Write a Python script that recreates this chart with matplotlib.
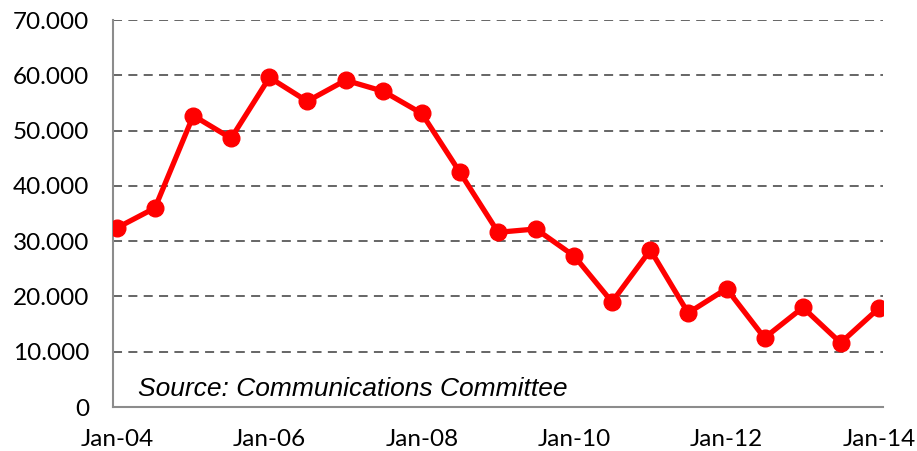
import matplotlib
matplotlib.use("Agg")
import matplotlib.pyplot as plt
import matplotlib.dates as mdates
import pandas as pd

dates = pd.date_range("2004-01-01", "2014-01-01", freq="6MS")
values = [32.4, 36.0, 52.7, 48.6, 59.6, 55.3, 59.1, 57.1, 53.1, 42.5, 31.6,
          32.2, 27.3, 19.0, 28.4, 17.0, 21.4, 12.5, 18.0, 11.6, 17.9]
y_ticks = [0, 10, 20, 30, 40, 50, 60, 70]
y_labels = ["0", "10.000", "20.000", "30.000", "40.000", "50.000", "60.000", "70.000"]
x_tick_dates = pd.to_datetime(["2004-01-01", "2006-01-01", "2008-01-01",
                               "2010-01-01", "2012-01-01", "2014-01-01"])
source_text = "Source: Communications Committee"

fig = plt.figure(figsize=(9.17, 4.51), dpi=100)
ax = fig.add_axes([113/917, 1 - 407/451, 770/917, 387/451])

ax.plot(dates, values, color="#FF0000", lw=3.8, marker="o", ms=12,
        markerfacecolor="#FF0000", markeredgecolor="#FF0000", zorder=3,
        solid_joinstyle="round")

ax.set_ylim(0, 70)
ax.set_yticks(y_ticks)
ax.set_yticklabels(y_labels)
pad = pd.Timedelta(days=19)
ax.set_xlim(dates[0] - pad, dates[-1] + pad)
ax.set_xticks(x_tick_dates)
ax.xaxis.set_major_formatter(mdates.DateFormatter("Jan-%y"))

for y in y_ticks[1:]:
    ax.axhline(y, color="#595959", lw=1.3, ls=(0, (5, 3.5)), zorder=1)

for s in ["top", "right"]:
    ax.spines[s].set_visible(False)
for s in ["left", "bottom"]:
    ax.spines[s].set_color("#8C8C8C")
    ax.spines[s].set_linewidth(1.5)

ax.tick_params(axis="both", length=0, labelsize=17.5, colors="#000000")
ax.tick_params(axis="y", pad=17)
ax.tick_params(axis="x", pad=16)
for lab in ax.get_xticklabels() + ax.get_yticklabels():
    lab.set_fontfamily("Lato")

ax.text(0.032, 0.028, source_text, transform=ax.transAxes, fontsize=19,
        fontstyle="italic", family="Liberation Sans", color="#000000")

fig.savefig("out.png", dpi=100)
